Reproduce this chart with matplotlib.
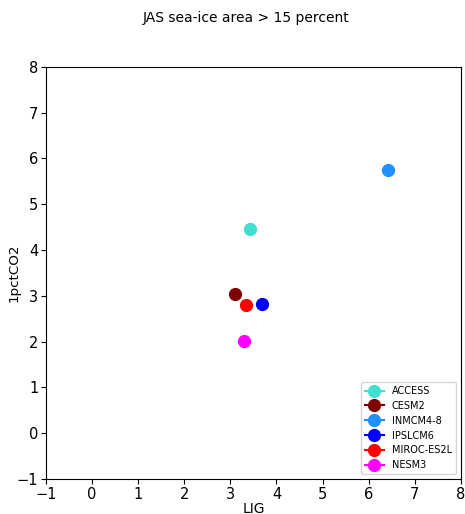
import matplotlib
matplotlib.use("Agg")
import matplotlib.pyplot as plt

# JAS sea-ice area (>15 percent), LIG vs 1pctCO2
modelos = ["ACCESS", "CESM2", "INMCM4-8", "IPSLCM6", "MIROC-ES2L", "NESM3"]
cores = ["turquoise", "maroon", "dodgerblue", "blue", "red", "magenta"]
lig = [3.43, 3.11, 6.43, 3.69, 3.34, 3.30]
co2 = [4.46, 3.04, 5.74, 2.83, 2.80, 2.02]

fig = plt.figure(figsize=(4.65, 5.14), dpi=100)
ax = fig.add_axes([0.099, 0.068, 0.892, 0.802])

for nome, cor, x, y in zip(modelos, cores, lig, co2):
    ax.plot([x], [y], marker='o', markersize=8.5, color=cor, label=nome)

ax.set_xlim(-1, 8)
ax.set_ylim(-1, 8)
ax.set_xticks(range(-1, 9))
ax.set_yticks(range(-1, 9))
ax.tick_params(labelsize=10.5, pad=2)
ax.set_xlabel("LIG", fontsize=10)
ax.set_ylabel("1pctCO2", fontsize=9.7)
ax.xaxis.set_label_coords(0.502, -0.056)
ax.yaxis.set_label_coords(-0.061, 0.5)
fig.suptitle("JAS sea-ice area > 15 percent", fontsize=10, x=0.53, y=0.978)
ax.legend(loc="lower right", fontsize=7)

fig.savefig("out.png", dpi=100)
